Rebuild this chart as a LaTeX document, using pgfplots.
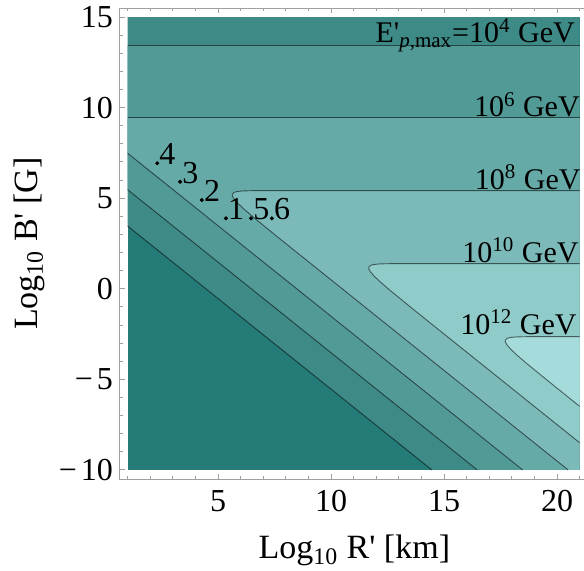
\documentclass[border=0pt]{standalone}
\usepackage{fontspec}
\setmainfont{Liberation Serif}
\usepackage{pgfplots}
\pgfplotsset{compat=1.18}
\definecolor{c0}{HTML}{247B78}
\definecolor{c1}{HTML}{3D8A86}
\definecolor{c2}{HTML}{529A96}
\definecolor{c3}{HTML}{66AAA7}
\definecolor{c4}{HTML}{7BBAB8}
\definecolor{c5}{HTML}{8FCBC9}
\definecolor{c6}{HTML}{A5DCDB}
\definecolor{frame}{HTML}{A0A0A0}
\newcommand{\fs}{\fontsize{15}{18}\selectfont}
\newcommand{\ft}{\fontsize{16}{19}\selectfont}
\newcommand{\fl}{\fontsize{17}{20}\selectfont}
\newcommand{\pr}{\textquotesingle}
\begin{document}
\begin{tikzpicture}
\begin{axis}[
  scale only axis, width=234.36pt, height=235.5pt,
  xmin=0.66, xmax=21.4, ymin=-10.5, ymax=15.5,
  axis line style={draw=frame, line width=0.5pt},
  ytick pos=left,
  xtick={5,10,15,20}, minor xtick={1,...,21},
  ytick={-10,-5,...,15}, minor ytick={-10,...,15},
  yticklabels={−\kern2pt10,−\kern2pt5,0,5,10,15},
  tick style={draw=frame, line width=0.5pt},
  major tick length=2.5pt, minor tick length=1.6pt,
  tick align=inside,
  ticklabel style={font=\ft},
  xticklabel style={yshift=-2pt},
  /pgf/number format/assume math mode=true,
  xlabel={Log\textsubscript{10} R\pr{} [km]},
  ylabel={Log\textsubscript{10} B\pr{} [G]},
  label style={font=\fl},
  xlabel style={yshift=-5pt},
  axis on top, clip=false,
]
% filled bands
\addplot[fill=c0, draw=none] coordinates {(1,-10) (21,-10) (21,15) (1,15)};
\addplot[fill=c1, draw=none] coordinates {(1,3.46) (1,15) (21,15) (21,-10) (14.46,-10)};
\addplot[fill=c2, draw=none] coordinates {(1,5.47) (1,13.45) (21,13.45) (21,-10) (16.47,-10)};
\addplot[fill=c3, draw=none] coordinates {(1,7.48) (1,9.44) (21,9.44) (21,-10) (18.48,-10)};
\addplot[fill=c4, draw=none] coordinates {(20.49,-10) (7.574,2.92) (6.593,3.92) (6.127,4.42) (5.873,4.72) (5.698,4.97) (5.632,5.12) (5.626,5.22) (5.703,5.32) (5.84,5.37) (6.07,5.40) (6.45,5.415) (6.91,5.419) (7.57,5.42) (21,5.42) (21,-10)};
\addplot[fill=c5, draw=none] coordinates {(21,-8.5) (13.614,-1.11) (12.633,-0.11) (12.167,0.39) (11.913,0.69) (11.738,0.94) (11.672,1.09) (11.666,1.19) (11.743,1.29) (11.88,1.34) (12.11,1.37) (12.49,1.385) (12.95,1.389) (13.61,1.39) (21,1.39)};
\addplot[fill=c6, draw=none] coordinates {(21,-6.49) (19.654,-5.14) (18.673,-4.14) (18.207,-3.64) (17.953,-3.34) (17.778,-3.09) (17.712,-2.94) (17.706,-2.84) (17.783,-2.74) (17.92,-2.69) (18.15,-2.66) (18.53,-2.645) (18.99,-2.641) (19.65,-2.64) (21,-2.64)};
% contour lines
\pgfplotsset{cline/.style={draw=black, draw opacity=0.55, line width=0.45pt, mark=none}}
\addplot[cline] coordinates {(1,3.46) (14.46,-10)};
\addplot[cline] coordinates {(1,5.47) (16.47,-10)};
\addplot[cline] coordinates {(1,13.45) (21,13.45)};
\addplot[cline] coordinates {(1,7.48) (18.48,-10)};
\addplot[cline] coordinates {(1,9.44) (21,9.44)};
\addplot[cline] coordinates {(20.49,-10) (7.574,2.92) (6.593,3.92) (6.127,4.42) (5.873,4.72) (5.698,4.97) (5.632,5.12) (5.626,5.22) (5.703,5.32) (5.84,5.37) (6.07,5.40) (6.45,5.415) (6.91,5.419) (7.57,5.42) (21,5.42)};
\addplot[cline] coordinates {(21,-8.5) (13.614,-1.11) (12.633,-0.11) (12.167,0.39) (11.913,0.69) (11.738,0.94) (11.672,1.09) (11.666,1.19) (11.743,1.29) (11.88,1.34) (12.11,1.37) (12.49,1.385) (12.95,1.389) (13.61,1.39) (21,1.39)};
\addplot[cline] coordinates {(21,-6.49) (19.654,-5.14) (18.673,-4.14) (18.207,-3.64) (17.953,-3.34) (17.778,-3.09) (17.712,-2.94) (17.706,-2.84) (17.783,-2.74) (17.92,-2.69) (18.15,-2.66) (18.53,-2.645) (18.99,-2.641) (19.65,-2.64) (21,-2.64)};
% labelled points
\addplot[only marks, mark=*, mark size=0.8pt, black, point meta=explicit symbolic,
  nodes near coords,
  every node near coord/.append style={anchor=base west, inner sep=0pt, xshift=0.9pt, yshift=-0.8pt, font=\ft, text=black}]
  table[meta=lab] {
x y lab
2.31 6.93 4
3.32 5.91 3
4.28 4.90 2
5.35 3.89 1
6.46 3.89 5
7.38 3.89 6
};
% contour labels
\node[anchor=base east, inner sep=0pt, font=\fs] at (axis cs:20.8,13.57) {E\pr\textsubscript{\textit{p},max}=10\textsuperscript{4} GeV};
\node[anchor=base east, inner sep=0pt, font=\fs] at (axis cs:21.02,9.5) {10\textsuperscript{6} GeV};
\node[anchor=base east, inner sep=0pt, font=\fs] at (axis cs:21.06,5.5) {10\textsuperscript{8} GeV};
\node[anchor=base east, inner sep=0pt, font=\fs] at (axis cs:20.97,1.47) {10\textsuperscript{10} GeV};
\node[anchor=base east, inner sep=0pt, font=\fs] at (axis cs:20.88,-2.52) {10\textsuperscript{12} GeV};
\end{axis}
\pgfresetboundingbox
\path[use as bounding box] ([xshift=-60pt,yshift=-45.5pt]current axis.south west) rectangle ([xshift=232pt,yshift=239.5pt]current axis.south west);
\end{tikzpicture}
\end{document}
